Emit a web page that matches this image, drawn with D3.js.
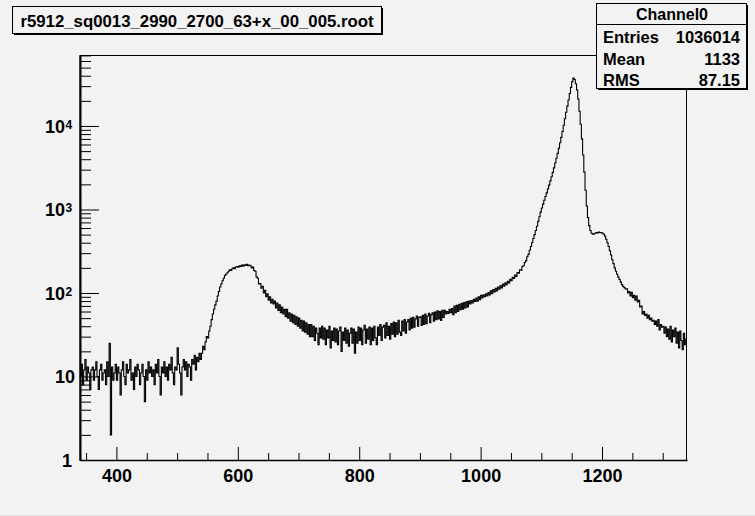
<!DOCTYPE html>
<html><head><meta charset="utf-8">
<script src="https://cdn.jsdelivr.net/npm/d3@7"></script>
<style>
html,body{margin:0;padding:0;background:#f2f2f2;}
svg{display:block;}
text{font-family:"Liberation Sans",Arial,Helvetica,sans-serif;font-weight:bold;fill:#000;}
</style></head><body>
<script>
// ---- data ----
const title = "r5912_sq0013_2990_2700_63+x_00_005.root";
const histName = "Channel0";
const statLabels = ["Entries", "Mean", "RMS"];
const statValues = ["1036014", "1133", "87.15"];
const xMin = 340, xMax = 1340, binWidth = 2;
const xTickMajor = [400, 600, 800, 1000, 1200];
const yTickMajor = [1, 10, 100, 1000, 10000];
const yTickLabels = [["1",""], ["10",""], ["10","2"], ["10","3"], ["10","4"]];
const yMax = 70800;
const counts = [
  10,14,8,12,16,9,13,11,7,12,
  13,9,12,15,10,7,12,14,9,11,
  12,8,15,10,25,2,13,9,11,14,
  9,13,11,6,12,15,10,8,14,11,
  12,16,9,11,7,13,10,14,12,8,
  11,14,10,5,12,9,15,11,13,10,
  12,8,14,11,16,10,6,13,11,15,
  10,13,9,14,12,17,11,8,13,12,
  22,14,11,6,13,16,12,15,10,14,
  13,9,16,14,18,12,17,15,19,16,
  19,23,21,26,30,29,35,40,48,56,
  64,72,80,92,104,118,128,140,150,162,
  168,175,182,190,186,195,200,196,205,208,
  204,212,208,216,210,218,214,220,212,216,
  212,200,204,186,182,156,150,128,130,114,
  120,100,108,90,98,82,90,76,84,74,
  80,66,76,62,72,58,68,56,64,52,
  64,50,58,46,56,44,54,42,52,40,
  50,38,47,35,46,34,44,32,42,30,
  42,30,40,27,38,33,24,38,29,40,
  28,38,24,36,29,40,22,35,27,38,
  26,37,24,35,39,20,34,27,38,25,
  36,23,33,38,25,37,19,34,25,39,
  27,38,24,36,41,25,37,28,39,24,
  38,27,40,29,24,39,31,42,27,39,
  41,29,44,31,40,28,43,32,45,30,
  44,32,47,34,31,46,35,48,33,45,
  48,36,50,38,51,39,49,53,40,51,
  52,41,54,42,56,43,53,57,44,55,
  58,46,59,48,61,49,60,47,62,51,
  62,56,60,57,64,58,65,55,70,58,
  71,60,73,63,75,64,77,66,79,68,
  80,74,81,76,84,79,87,80,90,83,
  94,87,95,90,98,92,101,95,106,98,
  110,103,114,106,118,111,123,115,128,121,
  132,126,138,132,146,140,154,149,164,158,
  176,172,190,188,208,212,232,244,272,290,
  325,360,400,450,500,560,630,720,820,930,
  1040,1160,1290,1430,1580,1760,1960,2200,2470,2780,
  3150,3600,4100,4700,5400,6300,7300,8600,10200,12200,
  14600,17300,20500,24500,29000,34000,37500,36000,32000,27000,
  21000,15000,10500,7000,4500,2800,1700,1100,800,640,
  560,520,505,510,520,530,525,535,530,528,
  520,505,480,440,400,360,320,285,250,225,
  200,182,168,155,145,135,126,120,116,112,
  112,100,104,92,102,88,94,82,92,78,
  82,68,70,56,60,54,56,50,54,48,
  50,46,47,42,46,40,48,36,42,39,
  40,33,39,30,37,28,40,26,36,30,
  38,25,34,22,35,27,21,33,24,28
];

// ---- layout ----
const W = 755, H = 516;
const fx0 = 80, fx1 = 687, fy0 = 55, fy1 = 460;
const svg = d3.select("body").append("svg").attr("width", W).attr("height", H);
svg.append("rect").attr("width", W).attr("height", H).attr("fill", "#f2f2f2");
svg.append("line").attr("x1",0).attr("x2",W).attr("y1",515.5).attr("y2",515.5).attr("stroke","#e4e4e4");

const x = d3.scaleLinear().domain([xMin, xMax]).range([fx0, fx1]);
const y = d3.scaleLog().domain([1, yMax]).range([fy1, fy0]);

// frame
svg.append("rect").attr("x", fx0).attr("y", fy0 + 0.5).attr("width", fx1 - fx0 - 0.5).attr("height", fy1 - fy0)
  .attr("fill", "none").attr("stroke", "#000").attr("stroke-width", 1);

// histogram
svg.append("clipPath").attr("id","clip").append("rect").attr("x",fx0).attr("y",fy0).attr("width",fx1-fx0).attr("height",fy1-fy0);
let d = "";
counts.forEach((c, i) => {
  const lo = x(xMin + i * binWidth), hi = x(xMin + (i + 1) * binWidth), yy = y(Math.max(c, 0.5));
  d += (i === 0 ? "M" : "L") + lo + "," + yy + "L" + hi + "," + yy;
});
svg.append("path").attr("d", d).attr("fill", "none").attr("stroke", "#000").attr("stroke-width", 1.1)
  .attr("clip-path","url(#clip)");

// x axis
const xMinor = d3.range(350, 1340, 50).filter(v => v % 200 !== 0);
svg.append("g").attr("transform", `translate(0,${fy1})`)
  .call(d3.axisBottom(x).tickValues(xMinor).tickSizeInner(-7).tickSizeOuter(0).tickFormat(""))
  .call(g => g.select(".domain").attr("stroke-width", 1.5));
const gxMaj = svg.append("g").attr("transform", `translate(0,${fy1})`)
  .call(d3.axisBottom(x).tickValues(xTickMajor).tickSizeInner(-13).tickSizeOuter(0).tickPadding(18).tickFormat(d3.format("d")));
gxMaj.select(".domain").remove();
gxMaj.selectAll("text").attr("font-size", 18).attr("font-family", "Liberation Sans, Arial, sans-serif")
  .attr("font-weight", "bold").attr("fill", "#000").attr("dy", "0.2em");

// y axis
const yMinor = [];
for (let e = 0; e <= 4; e++) for (let m = 2; m <= 9; m++) { const v = m * Math.pow(10, e); if (v < yMax) yMinor.push(v); }
svg.append("g").attr("transform", `translate(${fx0},0)`)
  .call(d3.axisLeft(y).tickValues(yMinor).tickSizeInner(-11).tickSizeOuter(0).tickFormat(""))
  .call(g => g.select(".domain").attr("stroke-width", 2));
const gyMaj = svg.append("g").attr("transform", `translate(${fx0},0)`)
  .call(d3.axisLeft(y).tickValues(yTickMajor).tickSizeInner(-19).tickSizeOuter(0).tickFormat(""));
gyMaj.select(".domain").remove();
yTickMajor.forEach((v, i) => {
  const [base, sup] = yTickLabels[i];
  const t = svg.append("text").attr("y", y(v) + 7).attr("font-size", 18);
  if (sup) {
    t.attr("x", 65).attr("text-anchor", "end").text(base);
    svg.append("text").attr("x", 65.5).attr("y", y(v) + 3).attr("font-size", 12).text(sup);
  } else {
    t.attr("x", v === 1 ? 72 : 75).attr("text-anchor", "end").text(base);
  }
});

// title box
function box(bx, by, bw, bh) {
  svg.append("rect").attr("x", bx + 2).attr("y", by + 2).attr("width", bw).attr("height", bh).attr("fill", "#000");
  svg.append("rect").attr("x", bx + 0.5).attr("y", by + 0.5).attr("width", bw).attr("height", bh)
    .attr("fill", "#f2f2f2").attr("stroke", "#000").attr("stroke-width", 1);
}
box(12, 6, 369, 27);
svg.append("text").attr("x", 197).attr("y", 26.5).attr("text-anchor", "middle").attr("font-size", 16.8).text(title);

// stats box
box(596, 3, 150, 85);
svg.append("line").attr("x1", 596).attr("x2", 746.5).attr("y1", 24.5).attr("y2", 24.5).attr("stroke", "#000");
svg.append("text").attr("x", 672).attr("y", 19.5).attr("text-anchor", "middle").attr("font-size", 16).text(histName);
statLabels.forEach((s, i) => {
  const yy = 43 + i * 21.5;
  svg.append("text").attr("x", 603).attr("y", yy).attr("font-size", 16.5).text(s);
  svg.append("text").attr("x", 740).attr("y", yy).attr("text-anchor", "end").attr("font-size", 16.5).text(statValues[i]);
});
</script>
</body></html>
